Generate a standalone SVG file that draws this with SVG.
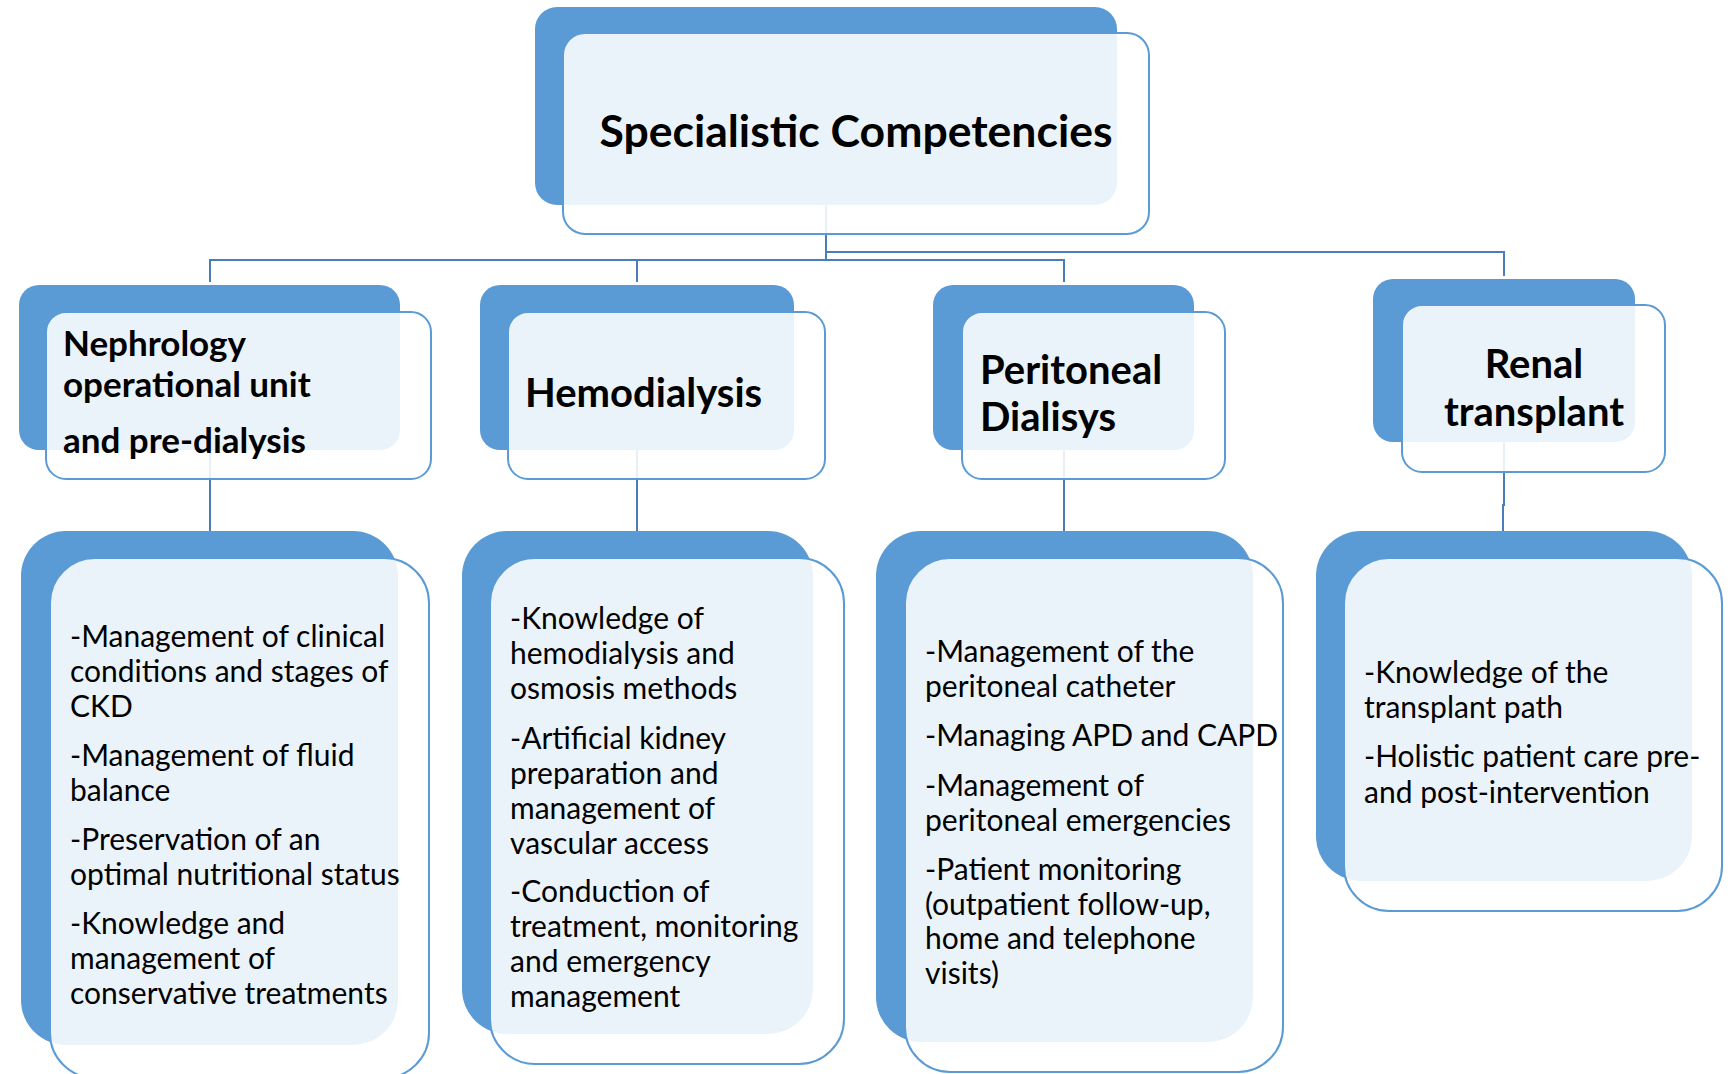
<svg xmlns="http://www.w3.org/2000/svg" width="1734" height="1074" viewBox="0 0 1734 1074">
<style>
.back{fill:#5B9BD5}
.front{fill:#FFFFFF;fill-opacity:0.88;stroke:#5B9BD5;stroke-width:2}
.conn{fill:none;stroke:#4A7EBB;stroke-width:2}
.t{font-family:Lato,"Open Sans","Liberation Sans",sans-serif;fill:#000}
.h1{font-size:44.5px;font-weight:bold}
.h2{font-size:35px;font-weight:bold}
.h3{font-size:40px;font-weight:bold}
.b{font-size:30px}
</style>
<rect width="1734" height="1074" fill="#FFFFFF"/>
<g id="connectors">
<path class="conn" d="M826 205 V260 M210 282 V260 H1064 V282 M637 260 V282 M826 252 H1504 V276"/>
<path class="conn" d="M210 450 V531 M637 450 V531 M1064 450 V531 M1504 442 V505 H1503 V531"/>
</g>
<g id="root">
<rect class="back" x="535" y="7" width="582" height="198" rx="22"/>
<rect class="front" x="563" y="33" width="586" height="201" rx="22"/>
<text class="t h1" x="856" y="147" text-anchor="middle">Specialistic Competencies</text>
</g>
<g id="nephrology">
<rect class="back" x="19" y="285" width="381" height="165" rx="20"/>
<rect class="front" x="46" y="312" width="385" height="167" rx="20"/>
<text class="t h2" x="63" y="356">Nephrology</text>
<text class="t h2" x="63" y="397">operational unit</text>
<text class="t h2" x="63" y="453">and pre-dialysis</text>
</g>
<g id="hemodialysis">
<rect class="back" x="480" y="285" width="314" height="165" rx="20"/>
<rect class="front" x="508" y="312" width="317" height="167" rx="20"/>
<text class="t h3" x="525" y="407">Hemodialysis</text>
</g>
<g id="peritoneal">
<rect class="back" x="933" y="285" width="261" height="165" rx="20"/>
<rect class="front" x="962" y="312" width="263" height="167" rx="20"/>
<text class="t h3" x="980" y="384">Peritoneal</text>
<text class="t h3" x="980" y="431">Dialisys</text>
</g>
<g id="renal">
<rect class="back" x="1373" y="279" width="262" height="163" rx="20"/>
<rect class="front" x="1402" y="305" width="263" height="167" rx="20"/>
<text class="t h3" x="1534" y="378" text-anchor="middle">Renal</text>
<text class="t h3" x="1534" y="426" text-anchor="middle">transplant</text>
</g>
<g id="nephrology-details">
<rect class="back" x="21" y="531" width="377" height="514" rx="45"/>
<rect class="front" x="50" y="558" width="379" height="520" rx="45"/>
<text class="t b" x="70" y="647">-Management of clinical</text>
<text class="t b" x="70" y="682">conditions and stages of</text>
<text class="t b" x="70" y="717">CKD</text>
<text class="t b" x="70" y="766">-Management of fluid</text>
<text class="t b" x="70" y="801">balance</text>
<text class="t b" x="70" y="850">-Preservation of an</text>
<text class="t b" x="70" y="885">optimal nutritional status</text>
<text class="t b" x="70" y="934">-Knowledge and</text>
<text class="t b" x="70" y="969">management of</text>
<text class="t b" x="70" y="1004">conservative treatments</text>
</g>
<g id="hemodialysis-details">
<rect class="back" x="462" y="531" width="351" height="503" rx="45"/>
<rect class="front" x="490" y="558" width="354" height="506" rx="45"/>
<text class="t b" x="510" y="629">-Knowledge of</text>
<text class="t b" x="510" y="664">hemodialysis and</text>
<text class="t b" x="510" y="699">osmosis methods</text>
<text class="t b" x="510" y="749">-Artificial kidney</text>
<text class="t b" x="510" y="784">preparation and</text>
<text class="t b" x="510" y="819">management of</text>
<text class="t b" x="510" y="854">vascular access</text>
<text class="t b" x="510" y="902">-Conduction of</text>
<text class="t b" x="510" y="937">treatment, monitoring</text>
<text class="t b" x="510" y="972">and emergency</text>
<text class="t b" x="510" y="1007">management</text>
</g>
<g id="peritoneal-details">
<rect class="back" x="876" y="531" width="377" height="511" rx="45"/>
<rect class="front" x="905" y="558" width="378" height="514" rx="45"/>
<text class="t b" x="925" y="662">-Management of the</text>
<text class="t b" x="925" y="697">peritoneal catheter</text>
<text class="t b" x="925" y="746">-Managing APD and CAPD</text>
<text class="t b" x="925" y="796">-Management of</text>
<text class="t b" x="925" y="831">peritoneal emergencies</text>
<text class="t b" x="925" y="880">-Patient monitoring</text>
<text class="t b" x="925" y="915">(outpatient follow-up,</text>
<text class="t b" x="925" y="949">home and telephone</text>
<text class="t b" x="925" y="984">visits)</text>
</g>
<g id="renal-details">
<rect class="back" x="1316" y="531" width="376" height="350" rx="45"/>
<rect class="front" x="1344" y="558" width="378" height="353" rx="45"/>
<text class="t b" x="1364" y="683">-Knowledge of the</text>
<text class="t b" x="1364" y="718">transplant path</text>
<text class="t b" x="1364" y="767">-Holistic patient care pre-</text>
<text class="t b" x="1364" y="803">and post-intervention</text>
</g>
</svg>
